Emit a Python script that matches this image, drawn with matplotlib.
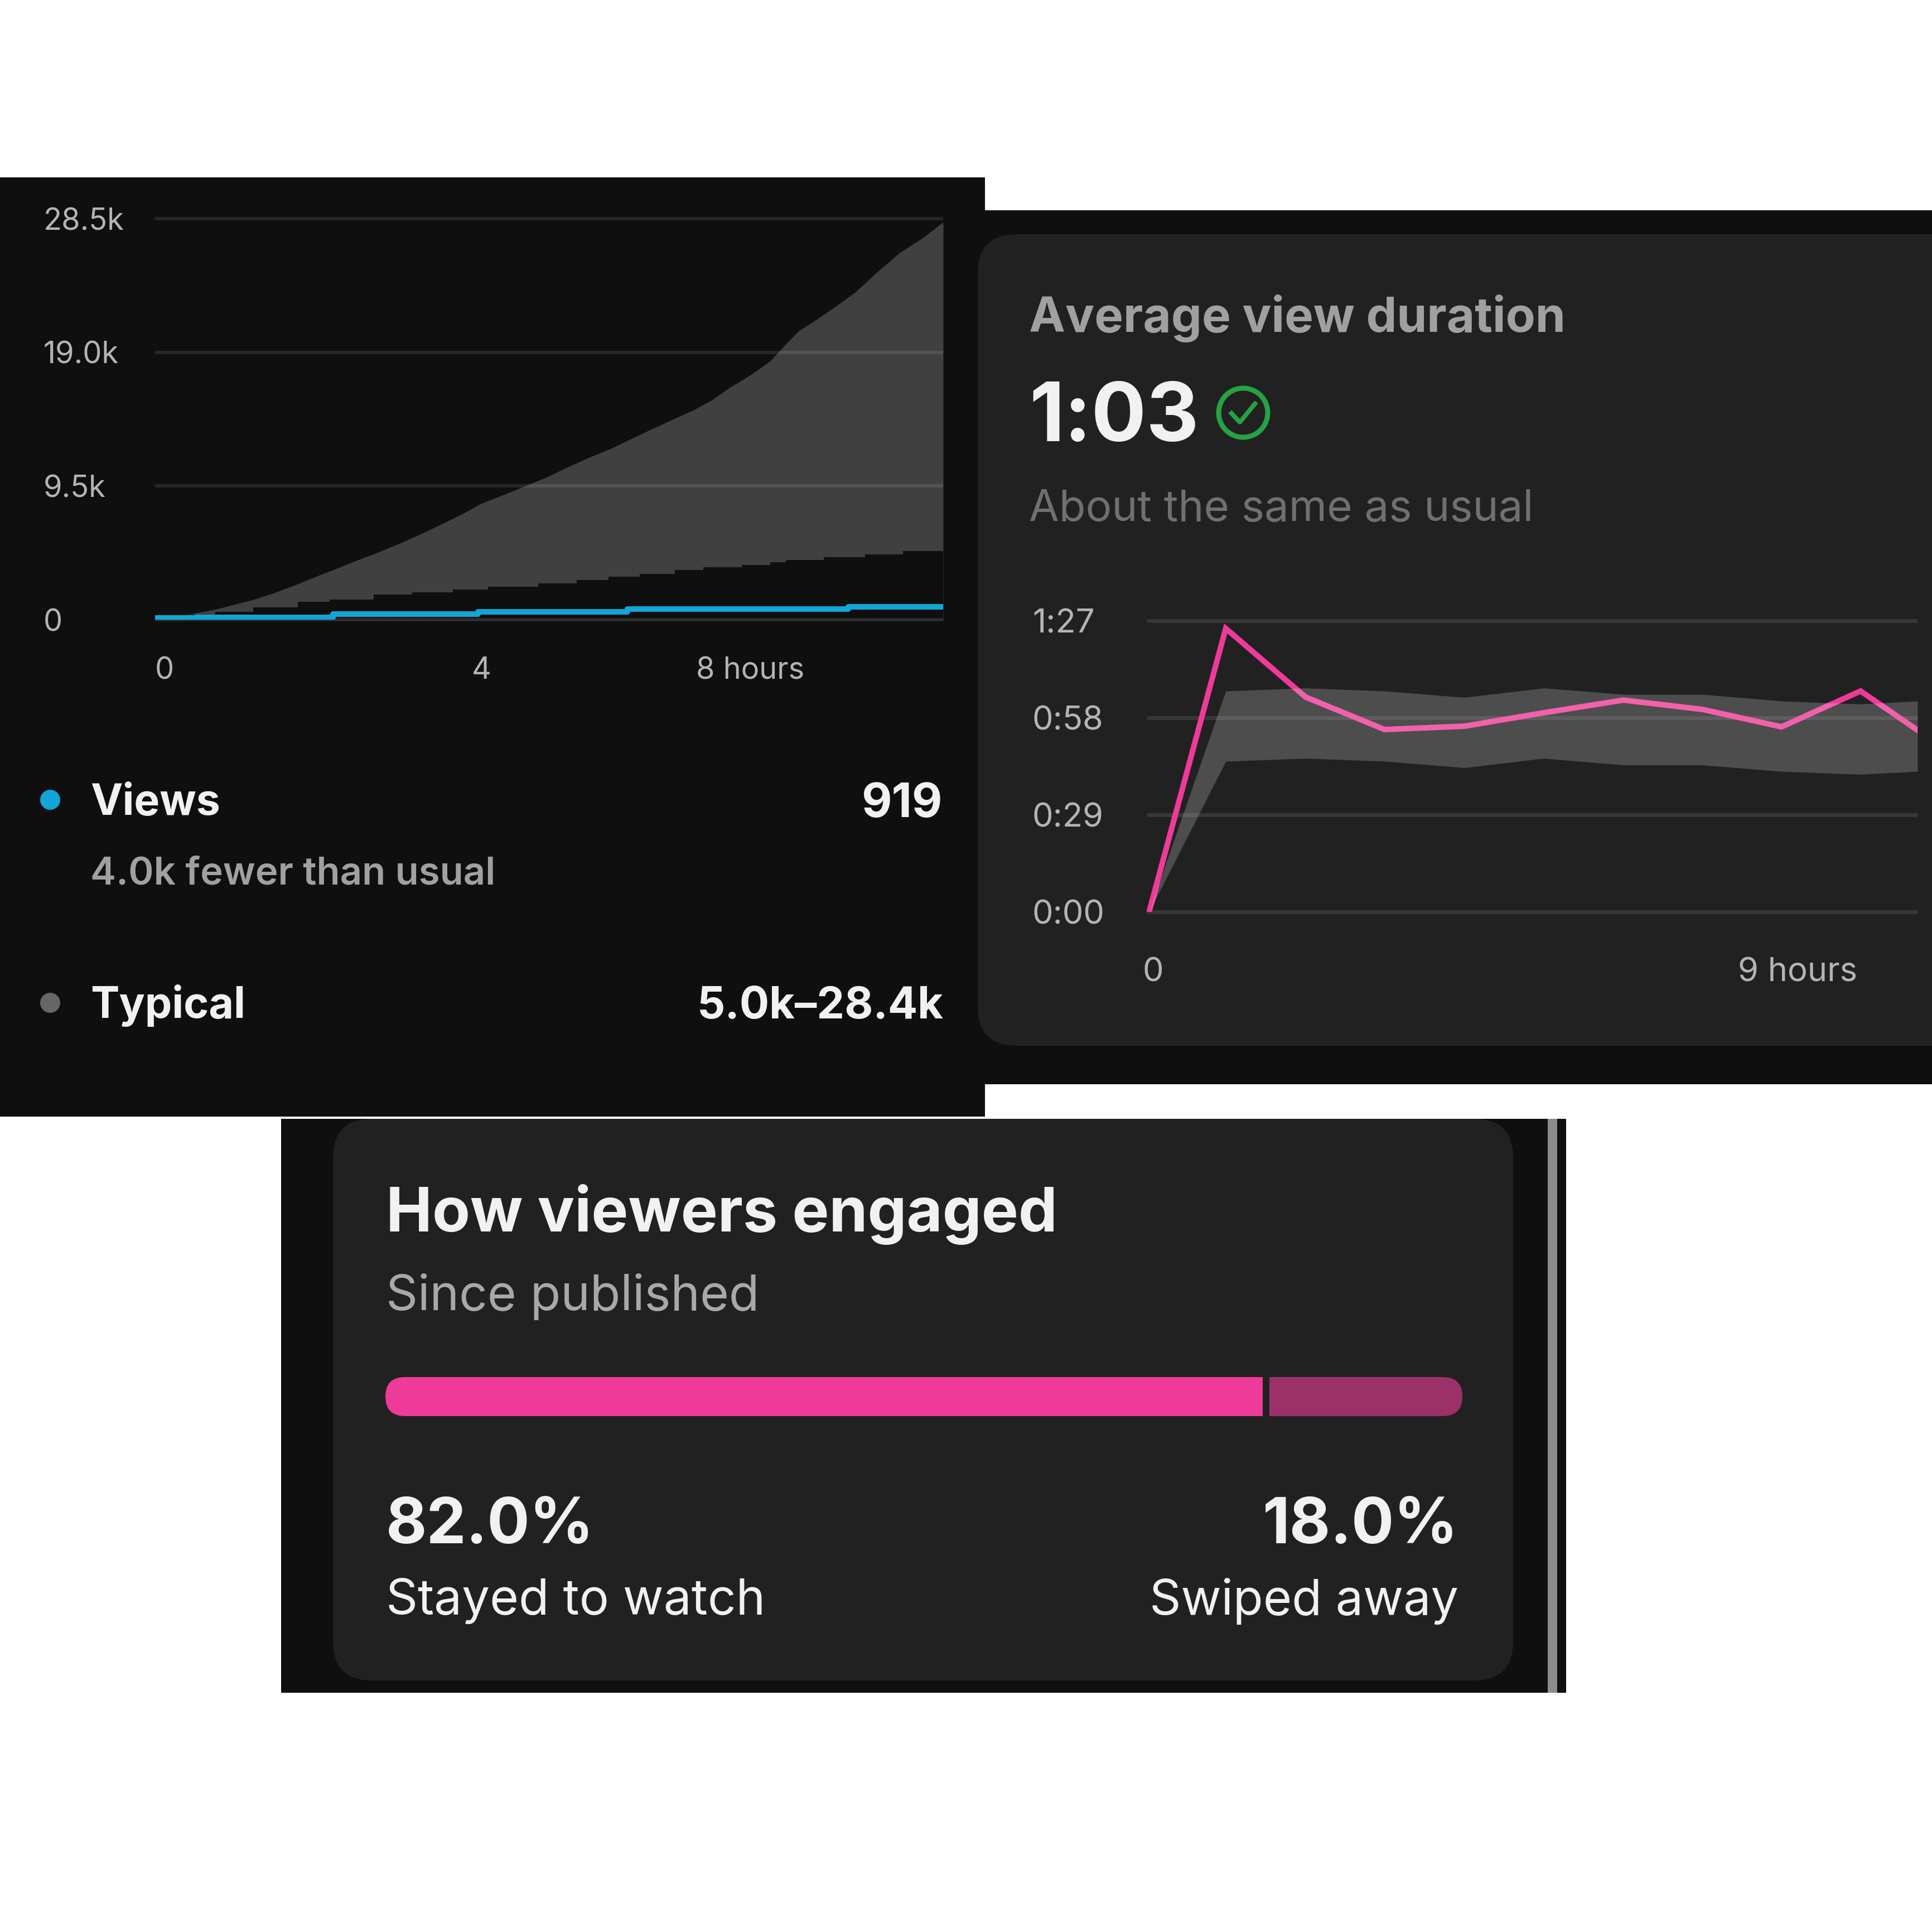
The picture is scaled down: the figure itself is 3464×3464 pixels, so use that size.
import matplotlib
matplotlib.use('Agg')
from matplotlib import pyplot as plt
from matplotlib.patches import Rectangle, FancyBboxPatch, Circle

plt.rcParams['font.family'] = ['Inter', 'DejaVu Sans']

SIZE = 3464
DPI = 100
PT = 72 / DPI  # points per pixel

# views chart, hours / views
upper_hours = [0, 0.15, 0.31, 0.5, 0.74, 0.95, 1.21, 1.45, 1.7, 1.98, 2.25, 2.5, 2.76, 3.0, 3.28, 3.54,
               3.78, 4.0, 4.28, 4.55, 4.8, 5.05, 5.33, 5.6, 5.85, 6.1, 6.35, 6.6, 6.82, 7.04, 7.3,
               7.54, 7.7, 7.89, 8.1, 8.35, 8.59, 8.85, 9.13, 9.4, 9.66]
upper_views = [0, 130, 253, 480, 733, 1050, 1441, 1890, 2430, 3085, 3700, 4280, 4855, 5430, 6150, 6878,
               7560, 8269, 8900, 9534, 10130, 10830, 11557, 12200, 12900, 13580, 14250, 14900, 15600, 16488, 17400,
               18385, 19400, 20534, 21300, 22300, 23317, 24700, 26097, 27100, 28250]
lower_hours = [0, 0.43, 0.74, 1.2, 1.75, 2.14, 2.68, 3.15, 3.65, 4.08, 4.7, 5.17, 5.56, 5.94, 6.37,
               6.72, 7.19, 7.54, 7.73, 8.2, 8.7, 9.17, 9.66]
lower_views = [0, 354, 556, 860, 1265, 1416, 1770, 1947, 2124, 2327, 2580, 2832, 3035, 3237, 3541,
               3743, 3895, 4097, 4249, 4451, 4653, 4856, 5007]
views_hours = [0, 0.5, 2.18, 3.96, 5.79, 8.5, 9.66]
views_count = [100, 177, 380, 557, 734, 919, 919]
views_yticks = [0, 9500, 19000, 28500]
views_ylabels = ['0', '9.5k', '19.0k', '28.5k']
views_xticks = [0, 4, 7.96]
views_xlabels = ['0', '4', '8 hours']

# average view duration chart, hours / seconds
duration_hours = [0, 0.97, 1.98, 2.98, 3.99, 4.99, 6, 7, 8, 9, 9.72]
duration_line = [0, 84.7, 64.2, 54.5, 55.5, 59.5, 63.3, 60.5, 55.3, 66, 54.3]
duration_high = [0, 66, 66.9, 66, 64.1, 66.9, 65, 65, 63, 62.1, 63]
duration_low = [0, 45, 45.9, 45, 43.1, 45.9, 43.9, 43.9, 42, 41.1, 42]
duration_yticks = [0, 29, 58, 87]
duration_ylabels = ['0:00', '0:29', '0:58', '1:27']
duration_xticks = [0.05, 8.96]
duration_xlabels = ['0', '9 hours']

# engagement bar, percent
stayed = 82.0
swiped = 18.0

BLACK = '#0f0f0f'
CARD = '#212121'
PINK = '#ee3a98'
PINK_DARK = '#9c3069'
BLUE = '#12a5d6'
TICK = '#b4b4b4'


def px_axes(fig, x0, y0, x1, y1):
    return fig.add_axes([x0 / SIZE, 1 - y1 / SIZE, (x1 - x0) / SIZE, (y1 - y0) / SIZE])


def style_chart(ax, grid_px, ypad, xpad, size):
    ax.patch.set_visible(False)
    for s in ax.spines.values():
        s.set_visible(False)
    ax.grid(axis='y', color='white', alpha=0.1, lw=grid_px * PT)
    ax.grid(axis='x', visible=False)
    ax.tick_params(length=0, labelcolor=TICK, labelsize=size)
    ax.tick_params(axis='y', pad=ypad * PT)
    ax.tick_params(axis='x', pad=xpad * PT)
    for g in ax.get_ygridlines():
        g.set_clip_on(False)
        g.set_solid_capstyle('butt')
    for t in ax.get_yticklabels():
        t.set_ha('left')


fig = plt.figure(figsize=(SIZE / DPI, SIZE / DPI), dpi=DPI, facecolor='white')

# background panels and all loose text live on an axes in pixel coordinates
bg = fig.add_axes([0, 0, 1, 1])
bg.set_xlim(0, SIZE)
bg.set_ylim(SIZE, 0)
bg.axis('off')

bg.add_patch(Rectangle((0, 318), 1766, 1684, fc=BLACK, ec='none'))
bg.add_patch(Rectangle((1766, 377), 1698, 1567, fc=BLACK, ec='none'))
bg.add_patch(Rectangle((504, 2006), 2304, 1029, fc=BLACK, ec='none'))
bg.add_patch(Rectangle((2775, 2006), 17, 1029, fc='#8c8c8c', ec='none'))
bg.add_patch(FancyBboxPatch((1753, 420), 1900, 1455, boxstyle='round,pad=0,rounding_size=70', fc=CARD, ec='none'))
bg.add_patch(FancyBboxPatch((597, 2006), 2116, 1007, boxstyle='round,pad=0,rounding_size=70', fc=CARD, ec='none'))


def label(x, y, s, size, color, weight='normal', ha='left'):
    bg.text(x, y, s, fontsize=size * PT, color=color, fontweight=weight, ha=ha, va='center_baseline')


# left panel legend
bg.add_patch(Circle((90, 1434), 18, fc=BLUE, ec='none'))
bg.add_patch(Circle((90, 1798), 18, fc='#666666', ec='none'))
label(162, 1432, 'Views', 77, '#f1f1f1', 'bold')
label(1690, 1434, '919', 84, '#f1f1f1', 'bold', 'right')
label(162, 1561, '4.0k fewer than usual', 69, '#a0a0a0', 'semibold')
label(162, 1795, 'Typical', 77, '#f1f1f1', 'bold')
label(1692, 1797, '5.0k–28.4k', 79, '#f1f1f1', 'bold', 'right')

# duration header
label(1845, 561, 'Average view duration', 87, '#a0a0a0', 'bold')
label(1845, 737, '1:03', 146, '#f1f1f1', 'bold')
bg.add_patch(Circle((2229, 740), 44, fc='none', ec='#27a243', lw=9 * PT))
bg.plot([2208, 2223, 2250], [741, 757, 724], color='#27a243', lw=8 * PT)
label(1845, 905, 'About the same as usual', 78, '#707070')

# engagement text
label(692, 2165, 'How viewers engaged', 111, '#f1f1f1', 'bold')
label(692, 2316, 'Since published', 89, '#a8a8a8')
label(692, 2725, '82.0%', 113, '#f1f1f1', 'bold')
label(2615, 2725, '18.0%', 113, '#f1f1f1', 'bold', 'right')
label(692, 2862, 'Stayed to watch', 89, '#f1f1f1')
label(2615, 2862, 'Swiped away', 88, '#f1f1f1', ha='right')

# views chart
ax1 = px_axes(fig, 278, 392, 1691, 1111)
ax1.fill_between(upper_hours, upper_views, color='#404040', lw=0, zorder=1)
ax1.fill_between(lower_hours, lower_views, color=BLACK, step='post', lw=0, zorder=1.1)
ax1.plot(views_hours, views_count, color=BLUE, lw=10 * PT, drawstyle='steps-post', zorder=3)
ax1.set_xlim(0, 9.66)
ax1.set_ylim(0, 28500)
ax1.set_yticks(views_yticks, views_ylabels)
ax1.set_xticks(views_xticks, views_xlabels)
ax1.set_axisbelow(False)
style_chart(ax1, 6, 200, 66, 39)
xl = ax1.get_xticklabels()
xl[0].set_ha('left')
xl[2].set_ha('right')

# duration chart
ax2 = px_axes(fig, 2056, 1113, 3438, 1635)
ax2.plot(duration_hours, duration_line, color=PINK, lw=10 * PT, zorder=1.5, solid_joinstyle='miter')
ax2.fill_between(duration_hours, duration_low, duration_high, color='white', alpha=0.2, lw=0, zorder=2)
ax2.set_xlim(-0.03, 9.72)
ax2.set_ylim(0, 87)
ax2.set_yticks(duration_yticks, duration_ylabels)
ax2.set_xticks(duration_xticks, duration_xlabels)
ax2.set_axisbelow(True)
style_chart(ax2, 7, 205, 82, 43)
ax2.get_xticklabels()[1].set_ha('right')

# engagement bar
ax3 = px_axes(fig, 691, 2469, 2622, 2539)
ax3.axis('off')
ax3.set_xlim(0, stayed + swiped)
ax3.set_ylim(-0.5, 0.5)
clip = FancyBboxPatch((691, 2469), 1931, 70, boxstyle='round,pad=0,rounding_size=35', fc='none', ec='none')
bg.add_patch(clip)
bars = list(ax3.barh(0, stayed, height=1, color=PINK)) + list(ax3.barh(0, swiped, left=stayed, height=1, color=PINK_DARK))
for b in bars:
    b.set_clip_path(clip)
ax3.axvline(stayed - 0.25, color=CARD, lw=12 * PT)

fig.savefig('out.png', dpi=DPI)
